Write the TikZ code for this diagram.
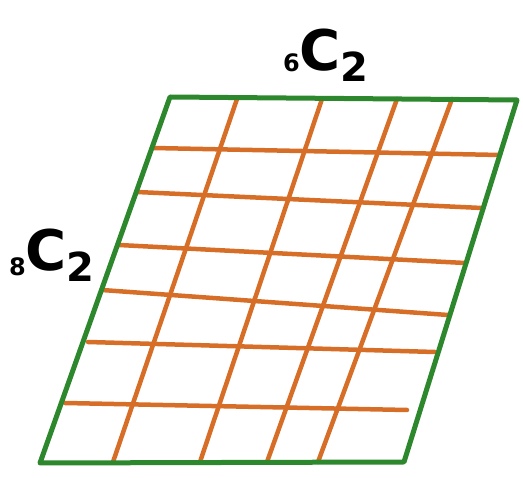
\documentclass[tikz,border=0pt]{standalone}
\usepackage{fontspec}
\setsansfont{DejaVu Sans}
\definecolor{frame}{RGB}{45,135,45}
\definecolor{gridc}{RGB}{215,110,40}
\begin{document}
\begin{tikzpicture}[x=1pt,y=-1pt,
  framestyle/.style={draw=frame,line width=5pt,line join=round,line cap=round},
  gridline/.style={draw=gridc,line width=4.5pt,line cap=round},
  lab/.style={font=\sffamily\bfseries\fontsize{56}{60}\selectfont,inner sep=0pt}]
\useasboundingbox (0,0) rectangle (523,478);
% corners
\coordinate (TL) at (170,97);
\coordinate (TR) at (517,100);
\coordinate (BR) at (404,462);
\coordinate (BL) at (40,463);
% vertical-ish grid lines
\foreach \i/\xt/\xb in {1/237/113, 2/322/200, 3/397/267, 4/452/318}{
  \coordinate (vt\i) at (\xt,99);
  \coordinate (vb\i) at (\xb,462);
  \draw[gridline] (vt\i) -- (vb\i);
}
% horizontal grid lines
\foreach \i/\xl/\yl/\xr/\yr in {1/153/148/500/155, 2/137/192/482/208, 3/119/245/465/263, 4/102/290/448/315, 5/88/342/435/352, 6/65/403/407/410}{
  \coordinate (hl\i) at (\xl,\yl);
  \coordinate (hr\i) at (\xr,\yr);
  \draw[gridline] (hl\i) -- (hr\i);
}
\draw[framestyle] (TL) -- (TR) -- (BR) -- (BL) -- cycle;
\node[lab] (top) at (326,55) {\raisebox{-0.02em}{\fontsize{24}{26}\selectfont 6}C\raisebox{-0.2em}{\fontsize{40}{42}\selectfont 2}};
\node[lab] (left) at (52,255) {\raisebox{-0.1em}{\fontsize{24}{26}\selectfont 8}C\raisebox{-0.2em}{\fontsize{40}{42}\selectfont 2}};
\end{tikzpicture}
\end{document}
